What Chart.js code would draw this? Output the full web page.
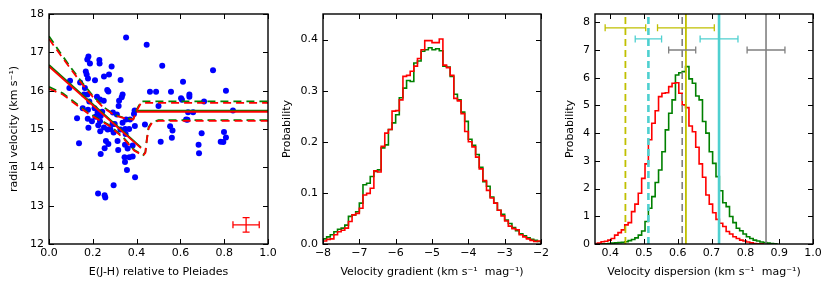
<!DOCTYPE html>
<html>
<head>
<meta charset="UTF-8">
<script src="https://cdnjs.cloudflare.com/ajax/libs/Chart.js/4.4.1/chart.umd.min.js"></script>
<style>
  body { margin: 0; background: white; }
  canvas { position: absolute; top: 0; }
</style>
</head>
<body>
<canvas id="rvChart" width="277" height="291" style="left:0px"></canvas>
<canvas id="gradChart" width="278" height="291" style="left:277px"></canvas>
<canvas id="dispChart" width="275" height="291" style="left:555px"></canvas>
<script>
// ---- panel 1: radial velocity vs E(J-H) ----
const ejh = [0.352, 0.446, 0.180, 0.175, 0.230, 0.187, 0.231, 0.286, 0.168, 0.172, 0.274, 0.251, 0.178, 0.210,
  0.327, 0.096, 0.142, 0.164, 0.266, 0.271, 0.093, 0.160, 0.176, 0.219, 0.336, 0.233, 0.332, 0.184, 0.320,
  0.250, 0.154, 0.178, 0.208, 0.318, 0.222, 0.231, 0.219, 0.236, 0.292, 0.310, 0.128, 0.177, 0.196, 0.233,
  0.352, 0.370, 0.336, 0.225, 0.251, 0.268, 0.280, 0.300, 0.290, 0.180, 0.234, 0.295, 0.326, 0.348, 0.366,
  0.392, 0.350, 0.313, 0.260, 0.271, 0.254, 0.137, 0.347, 0.359, 0.382, 0.316, 0.236, 0.345, 0.367, 0.382,
  0.347, 0.356, 0.393, 0.295, 0.224, 0.254, 0.257, 0.391, 0.388, 0.438, 0.228, 0.243, 0.212,
  0.461, 0.489, 0.517, 0.557, 0.500, 0.612, 0.603, 0.607, 0.641, 0.641, 0.708, 0.635, 0.658, 0.626, 0.632,
  0.553, 0.564, 0.561, 0.510, 0.697, 0.683, 0.685, 0.749, 0.808, 0.840, 0.799, 0.784, 0.796, 0.808];
const rv = [17.39, 17.20, 16.89, 16.81, 16.80, 16.71, 16.71, 16.63, 16.50, 16.42, 16.42, 16.37, 16.32, 16.27,
  16.28, 16.26, 16.21, 16.07, 16.02, 15.98, 16.07, 15.90, 15.90, 15.84, 15.90, 15.77, 15.83, 15.72, 15.74,
  15.74, 15.54, 15.50, 15.54, 15.60, 15.43, 15.39, 15.34, 15.34, 15.43, 15.38, 15.28, 15.27, 15.20, 15.20,
  15.25, 15.25, 15.16, 15.10, 15.04, 14.99, 15.00, 15.13, 15.13, 15.03, 14.94, 14.91, 14.99, 15.00, 15.00,
  15.08, 14.87, 14.69, 14.69, 14.61, 14.50, 14.63, 14.59, 14.49, 14.57, 14.45, 14.35, 14.26, 14.26, 14.28,
  14.14, 13.93, 13.74, 13.53, 13.32, 13.27, 13.21, 15.48, 15.39, 15.12, 15.36, 15.45, 15.32,
  15.97, 15.97, 16.65, 15.97, 15.60, 16.23, 15.80, 15.76, 15.90, 15.84, 15.72, 15.44, 15.44, 15.25, 15.24,
  15.07, 14.96, 14.77, 14.67, 14.89, 14.59, 14.37, 16.53, 16.00, 15.48, 14.92, 14.67, 14.66, 14.78];

// fitted relation (green / red) and its envelopes
const slopeX = [0, 0.42];
const slopeGreen = [16.67, 14.52];
const slopeRed = [16.63, 14.50];
const flatX = [0.40, 1.0];
const flatGreen = [15.48, 15.48];
const flatRed = [15.45, 15.45];
const upperX = [0, 0.05, 0.1, 0.15, 0.2, 0.25, 0.3, 0.35, 0.385, 0.4, 0.42, 1.0];
const upperGreen = [17.42, 17.0, 16.6, 16.22, 15.87, 15.57, 15.37, 15.28, 15.26, 15.5, 15.72, 15.72];
const upperRed = [17.35, 16.95, 16.56, 16.18, 15.84, 15.55, 15.35, 15.27, 15.25, 15.47, 15.68, 15.68];
const lowerX = [0, 0.063, 0.123, 0.184, 0.23, 0.276, 0.336, 0.39, 0.43, 0.44, 0.447, 0.455, 0.47, 0.5, 1.0];
const lowerGreen = [16.1, 15.93, 15.67, 15.4, 15.25, 15.1, 14.8, 14.45, 14.32, 14.4, 14.75, 15.05, 15.18, 15.23, 15.23];
const lowerRed = [16.05, 15.9, 15.64, 15.38, 15.23, 15.08, 14.78, 14.43, 14.31, 14.38, 14.72, 15.02, 15.16, 15.21, 15.21];
const typicalErr = { x: 0.9, y: 12.5, xerr: 0.06, yerr: 0.19 };
const rvXTicks = [0, 0.2, 0.4, 0.6, 0.8, 1.0];
const rvYTicks = [12, 13, 14, 15, 16, 17, 18];

// ---- panel 2: velocity gradient posterior (bins of 0.1 from -8) ----
const gradStart = -8, gradWidth = 0.1;
const gradGreen = [0.010, 0.014, 0.018, 0.024, 0.029, 0.031, 0.037, 0.054, 0.057, 0.063, 0.080, 0.116, 0.119,
  0.132, 0.142, 0.145, 0.188, 0.194, 0.224, 0.237, 0.253, 0.286, 0.305, 0.320, 0.318, 0.354, 0.358, 0.377,
  0.380, 0.384, 0.380, 0.382, 0.378, 0.348, 0.346, 0.328, 0.293, 0.282, 0.258, 0.240, 0.205, 0.193, 0.175,
  0.150, 0.122, 0.113, 0.092, 0.080, 0.066, 0.058, 0.047, 0.040, 0.032, 0.026, 0.020, 0.016, 0.012, 0.009,
  0.007, 0.005];
const gradRed = [0.006, 0.009, 0.010, 0.018, 0.024, 0.027, 0.031, 0.044, 0.057, 0.060, 0.070, 0.096, 0.099,
  0.109, 0.143, 0.141, 0.191, 0.217, 0.224, 0.260, 0.261, 0.282, 0.328, 0.330, 0.338, 0.348, 0.363, 0.380,
  0.398, 0.398, 0.394, 0.394, 0.401, 0.350, 0.345, 0.330, 0.285, 0.280, 0.255, 0.220, 0.200, 0.190, 0.170,
  0.147, 0.124, 0.105, 0.090, 0.080, 0.066, 0.055, 0.045, 0.035, 0.030, 0.028, 0.018, 0.014, 0.010, 0.007,
  0.005, 0.006];
const gradXTicks = [-8, -7, -6, -5, -4, -3, -2];
const gradYTicks = [0, 0.1, 0.2, 0.3, 0.4];

// ---- panel 3: velocity dispersion posterior (bins of 0.01 from 0.353) ----
const dispStart = 0.353, dispWidth = 0.01;
const dispRed = [0.02, 0.03, 0.08, 0.10, 0.14, 0.20, 0.32, 0.41, 0.51, 0.69, 0.77, 1.17, 1.44, 1.83, 2.37, 2.89,
  3.76, 4.36, 4.81, 5.32, 5.44, 5.46, 5.68, 5.80, 5.82, 5.44, 5.02, 4.92, 4.26, 4.05, 3.49, 2.89, 2.41, 1.77,
  1.44, 1.13, 0.89, 0.75, 0.63, 0.45, 0.36, 0.26, 0.20, 0.14, 0.11, 0.07, 0.04, 0.02, 0.01, 0.01];
const dispGreen = [0, 0, 0.01, 0.01, 0.02, 0.03, 0.04, 0.05, 0.06, 0.08, 0.12, 0.16, 0.22, 0.32, 0.47, 0.81,
  1.29, 1.71, 2.22, 2.67, 3.33, 4.12, 4.72, 5.20, 6.10, 6.18, 6.22, 6.40, 5.96, 5.80, 5.34, 5.20, 4.42, 4.00,
  3.33, 2.91, 2.43, 1.92, 1.49, 1.35, 0.99, 0.77, 0.57, 0.48, 0.36, 0.26, 0.20, 0.14, 0.11, 0.07, 0.05, 0.03,
  0.02, 0.01];
// reference estimates: dashed (left) and solid (right) values with errors, one row each
const refDashed = [0.445, 0.513, 0.613];
const refDashedErr = [0.06, 0.039, 0.04];
const refSolid = [0.624, 0.722, 0.861];
const refSolidErr = [0.084, 0.056, 0.056];
const refLevels = [7.8, 7.4, 7.0];
const dispXTicks = [0.4, 0.5, 0.6, 0.7, 0.8, 0.9, 1.0];
const dispYTicks = [0, 1, 2, 3, 4, 5, 6, 7, 8];

// ---- styling ----
Chart.defaults.font.family = '"DejaVu Sans", sans-serif';
Chart.defaults.font.size = 11;
Chart.defaults.color = '#000';
const GREEN = '#008000', RED = '#ff0000';
const refColours = ['#c0c000', '#4fd0d0', '#808080'];
const refWidths = [1.8, 2.6, 1.6];

const pts = (xs, ys) => xs.map((x, i) => ({ x: x, y: ys[i] }));
function outline(start, width, vals) {
  const out = [{ x: start, y: 0 }];
  vals.forEach((v, i) => {
    out.push({ x: start + i * width, y: v }, { x: start + (i + 1) * width, y: v });
  });
  out.push({ x: start + vals.length * width, y: 0 });
  return out;
}
function line(data, colour, width, dash, order) {
  return { data: data, showLine: true, pointRadius: 0, borderColor: colour, borderWidth: width,
    borderDash: dash || [], fill: false, order: order };
}
function axis(min, max, ticks, fmt, title, size, titlePad, horizontal) {
  return {
    type: 'linear', min: min, max: max,
    afterBuildTicks: s => { s.ticks = ticks.map(v => ({ value: v })); },
    afterFit: s => {
      if (horizontal) { s.height = size; s.paddingLeft = 0; s.paddingRight = 0; }
      else { s.width = size; s.paddingTop = 0; s.paddingBottom = 0; }
    },
    grid: { display: false, drawTicks: false },
    border: { display: false },
    ticks: { callback: fmt, padding: horizontal ? 3 : 5, autoSkip: false, maxRotation: 0, color: '#000' },
    title: { display: true, text: title, color: '#000', padding: titlePad }
  };
}
const fmt1 = v => v.toFixed(1);
const fmtInt = v => String(v).replace('-', '\u2212');

// frame with inward ticks on all four sides
const frameTicks = {
  id: 'frameTicks',
  afterDatasetsDraw(chart) {
    const { ctx, chartArea: a, scales: { x, y } } = chart;
    ctx.save();
    ctx.strokeStyle = '#000';
    ctx.lineWidth = 1;
    ctx.beginPath();
    x.ticks.forEach(t => {
      const p = Math.round(x.getPixelForValue(t.value)) + 0.5;
      ctx.moveTo(p, a.bottom); ctx.lineTo(p, a.bottom - 5);
      ctx.moveTo(p, a.top); ctx.lineTo(p, a.top + 5);
    });
    y.ticks.forEach(t => {
      const p = Math.round(y.getPixelForValue(t.value)) + 0.5;
      ctx.moveTo(a.left, p); ctx.lineTo(a.left + 5, p);
      ctx.moveTo(a.right, p); ctx.lineTo(a.right - 5, p);
    });
    ctx.stroke();
    ctx.lineWidth = 1.4;
    ctx.strokeRect(a.left, a.top, a.right - a.left, a.bottom - a.top);
    ctx.restore();
  }
};
function errorBars(bars) {
  return {
    id: 'errorBars',
    afterDatasetsDraw(chart) {
      const { ctx, scales: { x, y } } = chart;
      bars.forEach(b => {
        ctx.save();
        ctx.strokeStyle = b.colour;
        ctx.lineWidth = 1.3;
        ctx.beginPath();
        const cy = y.getPixelForValue(b.y), cx = x.getPixelForValue(b.x);
        const x0 = x.getPixelForValue(b.x - b.xerr), x1 = x.getPixelForValue(b.x + b.xerr);
        ctx.moveTo(x0, cy); ctx.lineTo(x1, cy);
        ctx.moveTo(x0, cy - 3.5); ctx.lineTo(x0, cy + 3.5);
        ctx.moveTo(x1, cy - 3.5); ctx.lineTo(x1, cy + 3.5);
        if (b.yerr) {
          const y0 = y.getPixelForValue(b.y - b.yerr), y1 = y.getPixelForValue(b.y + b.yerr);
          ctx.moveTo(cx, y0); ctx.lineTo(cx, y1);
          ctx.moveTo(cx - 3.5, y0); ctx.lineTo(cx + 3.5, y0);
          ctx.moveTo(cx - 3.5, y1); ctx.lineTo(cx + 3.5, y1);
        }
        ctx.stroke();
        ctx.restore();
      });
    }
  };
}
const common = { responsive: false, animation: false, events: [],
  plugins: { legend: { display: false }, tooltip: { enabled: false } } };

// panel 1
new Chart(document.getElementById('rvChart'), {
  type: 'scatter',
  data: { datasets: [
    { data: pts(ejh, rv), backgroundColor: '#0000ff', borderWidth: 0, pointRadius: 3, order: 10 },
    line(pts(slopeX, slopeGreen), GREEN, 1.8, null, 5),
    line(pts(flatX, flatGreen), GREEN, 1.8, null, 5),
    line(pts(upperX, upperGreen), GREEN, 1.8, [8, 5], 5),
    line(pts(lowerX, lowerGreen), GREEN, 1.8, [8, 5], 5),
    line(pts(slopeX, slopeRed), RED, 1.8, null, 1),
    line(pts(flatX, flatRed), RED, 1.8, null, 1),
    line(pts(upperX, upperRed), RED, 1.8, [8, 5], 1),
    line(pts(lowerX, lowerRed), RED, 1.8, [8, 5], 1)
  ] },
  options: Object.assign({}, common, {
    layout: { padding: { left: 0, right: 9, top: 14, bottom: 0 } },
    scales: {
      x: axis(0, 1, rvXTicks, fmt1, 'E(J-H) relative to Pleiades', 47, { top: 2, bottom: 12 }, true),
      y: axis(12, 18, rvYTicks, fmtInt, 'radial velocity (km s\u207B\u00B9)', 49, { top: 8, bottom: 0 }, false)
    }
  }),
  plugins: [frameTicks, errorBars([Object.assign({ colour: RED }, typicalErr)])]
});

// panel 2
new Chart(document.getElementById('gradChart'), {
  type: 'scatter',
  data: { datasets: [
    line(outline(gradStart, gradWidth, gradGreen), GREEN, 1.6, null, 2),
    line(outline(gradStart, gradWidth, gradRed), RED, 1.6, null, 1)
  ] },
  options: Object.assign({}, common, {
    layout: { padding: { left: 0, right: 14, top: 14, bottom: 0 } },
    scales: {
      x: axis(-8, -2, gradXTicks, fmtInt, 'Velocity gradient (km s\u207B\u00B9  mag\u207B\u00B9)', 47, { top: 2, bottom: 12 }, true),
      y: axis(0, 0.45, gradYTicks, fmt1, 'Probability', 46, { top: 4, bottom: 0 }, false)
    }
  }),
  plugins: [frameTicks]
});

// panel 3
const refLines = [];
refDashed.forEach((c, i) => {
  refLines.push(line(pts([c, c], [0, 8.3]), refColours[i], refWidths[i], [7, 4], 0));
  refLines.push(line(pts([refSolid[i], refSolid[i]], [0, 8.3]), refColours[i], refWidths[i], null, 0));
});
const refBars = [];
refLevels.forEach((lv, i) => {
  refBars.push({ x: refDashed[i], y: lv, xerr: refDashedErr[i], colour: refColours[i] });
  refBars.push({ x: refSolid[i], y: lv, xerr: refSolidErr[i], colour: refColours[i] });
});
new Chart(document.getElementById('dispChart'), {
  type: 'scatter',
  data: { datasets: [
    line(outline(dispStart, dispWidth, dispGreen), GREEN, 1.6, null, 2),
    line(outline(dispStart, dispWidth, dispRed), RED, 1.6, null, 1)
  ].concat(refLines) },
  options: Object.assign({}, common, {
    layout: { padding: { left: 0, right: 17, top: 14, bottom: 0 } },
    scales: {
      x: axis(0.355, 1.0, dispXTicks, fmt1, 'Velocity dispersion (km s\u207B\u00B9  mag\u207B\u00B9)', 47, { top: 2, bottom: 12 }, true),
      y: axis(0, 8.3, dispYTicks, fmtInt, 'Probability', 40, { top: 9, bottom: 0 }, false)
    }
  }),
  plugins: [frameTicks, errorBars(refBars)]
});
</script>
</body>
</html>
